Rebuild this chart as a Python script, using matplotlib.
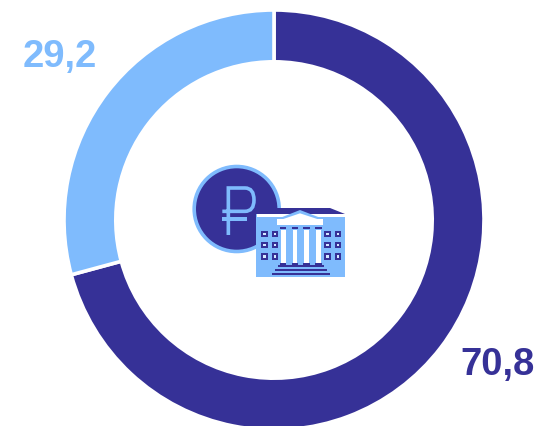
import matplotlib
matplotlib.use("Agg")
import matplotlib.pyplot as plt
from matplotlib.patches import Circle, Polygon
from matplotlib.path import Path
from matplotlib.patches import PathPatch

plt.rcParams['font.family'] = ['Liberation Sans', 'DejaVu Sans']

values = [70.8, 29.2]
labels = ['70,8', '29,2']
colors = ['#363197', '#7FBBFD']
W, H = 535, 427

fig = plt.figure(figsize=(W/100, H/100), dpi=100)
ax = fig.add_axes([0, 0, 1, 1])
ax.pie(values, colors=colors, startangle=90, counterclock=False,
       center=(274, H-221), radius=210.0,
       wedgeprops=dict(width=51.8, edgecolor='white', linewidth=2.6), frame=True)
ax.set_xlim(0, W)
ax.set_ylim(0, H)
ax.set_aspect('equal')
ax.axis('off')

for label, color, x, y in ((labels[0], colors[0], 497, 365), (labels[1], colors[1], 60, 57)):
    t = ax.text(x, H-y, label, color=color, fontsize=27.5, fontweight='bold',
                ha='center', va='center')

DARK, LIGHT = colors
def P(zx, zy):
    return (250 + zx/3, H - (205 + zy/3))
def poly(pts, c, z=5):
    ax.add_patch(Polygon([P(*p) for p in pts], closed=True, fc=c, ec='none', zorder=z))
def rect(x0, y0, x1, y1, c, z=5):
    poly([(x0, y0), (x1, y0), (x1, y1), (x0, y1)], c, z)

# coin (centre in px)
ax.add_patch(Circle((236.7, H-210), 42.5, fc=DARK, ec=LIGHT, lw=2.6, zorder=3))
# ruble sign (crop coordinates relative to 250,205)
o = lambda x, y: (x-210, y-150)
verts = [P(*o(145, 243)), P(*o(145, 102)), P(*o(195, 102)), P(*o(222, 102)), P(*o(222, 138)),
         P(*o(222, 172)), P(*o(195, 172)), P(*o(127, 172))]
codes = [Path.MOVETO, Path.LINETO, Path.LINETO, Path.CURVE3, Path.CURVE3, Path.CURVE3, Path.CURVE3, Path.LINETO]
ax.add_patch(PathPatch(Path(verts, codes), fc='none', ec=LIGHT, lw=2.6, zorder=4, capstyle='butt'))
rect(*o(127, 190), *o(200, 200), LIGHT, 4)

# building
rect(18, 30, 286, 218, LIGHT)
poly([(20, 30), (60, 12), (240, 12), (285, 30)], DARK, 6)
rect(20, 30, 285, 38, 'white', 6)
poly([(82, 45), (150, 18), (220, 45)], LIGHT, 7)
poly([(85, 50), (150, 28), (217, 50)], 'white', 8)
rect(82, 45, 220, 62, 'white', 8)
for x0 in (90, 125, 160, 196):
    rect(x0, 69, x0+19, 76, DARK, 8)
    rect(x0+3, 78, x0+17, 176, 'white', 8)
    rect(x0, 178, x0+19, 184, DARK, 8)
rect(84, 184, 222, 190, DARK, 8)
rect(75, 195, 231, 201, DARK, 8)
rect(65, 207, 241, 213, DARK, 8)
for x0 in (34, 65, 223, 254):
    for y0 in (80, 113, 147):
        rect(x0, y0, x0+19, y0+20, DARK, 7)
        rect(x0+6, y0+6, x0+13, y0+14, '#D5E8FF', 8)

fig.savefig('out.png', dpi=100)
